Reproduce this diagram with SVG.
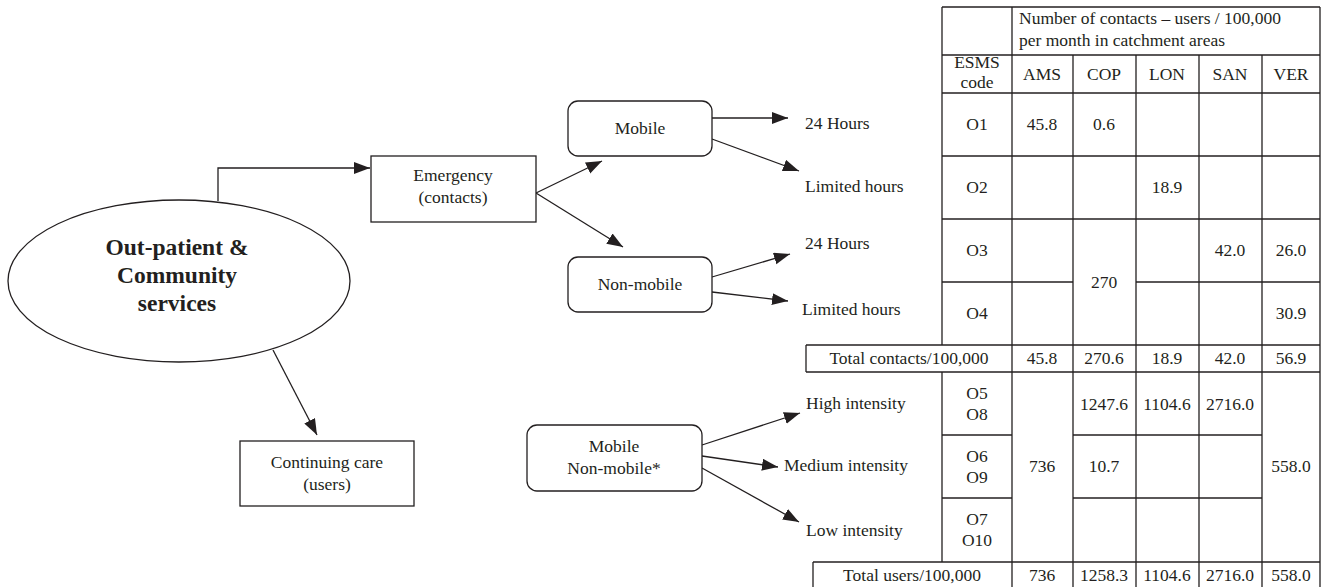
<svg xmlns="http://www.w3.org/2000/svg" width="1322" height="587" viewBox="0 0 1322 587">
<style>
text{font-family:"Liberation Serif","DejaVu Serif",serif;fill:#231f20;font-size:17.5px}
.c{text-anchor:middle}
.b{font-weight:bold;font-size:23.5px}
.box{fill:#fff;stroke:#231f20;stroke-width:1.3}
.ln{stroke:#231f20;stroke-width:1.3;fill:none}
.g{stroke:#231f20;stroke-width:1.3}
</style>
<defs>
<marker id="ah" markerUnits="userSpaceOnUse" markerWidth="17" markerHeight="13" refX="16" refY="6" orient="auto">
<path d="M0,0 L16,6 L0,12 z" fill="#231f20"/>
</marker>
</defs>
<rect width="1322" height="587" fill="#fff"/>

<g id="connectors" class="ln">
<polyline points="218,201 218,168 370,168" marker-end="url(#ah)"/>
<line x1="273" y1="350" x2="317" y2="435" marker-end="url(#ah)"/>
<line x1="536" y1="193" x2="602" y2="161" marker-end="url(#ah)"/>
<line x1="536" y1="193" x2="623" y2="247" marker-end="url(#ah)"/>
<line x1="712" y1="118" x2="788" y2="118" marker-end="url(#ah)"/>
<line x1="712" y1="139" x2="799" y2="171" marker-end="url(#ah)"/>
<line x1="712" y1="277" x2="790" y2="254" marker-end="url(#ah)"/>
<line x1="712" y1="292" x2="788" y2="301" marker-end="url(#ah)"/>
<line x1="702" y1="445" x2="800" y2="413" marker-end="url(#ah)"/>
<line x1="702" y1="456" x2="778" y2="467" marker-end="url(#ah)"/>
<line x1="702" y1="468" x2="799" y2="522" marker-end="url(#ah)"/>
</g>

<g id="node-outpatient">
<ellipse cx="179" cy="281" rx="171" ry="81" class="box"/>
<text class="c b" x="177" y="255">Out-patient &amp;</text>
<text class="c b" x="177" y="283">Community</text>
<text class="c b" x="177" y="311">services</text>
</g>

<g id="node-emergency">
<rect x="371" y="156" width="165" height="66" class="box"/>
<text class="c" x="453" y="181">Emergency</text>
<text class="c" x="453" y="203">(contacts)</text>
</g>

<g id="node-continuing">
<rect x="240" y="441" width="174" height="65" class="box"/>
<text class="c" x="327" y="468">Continuing care</text>
<text class="c" x="327" y="490">(users)</text>
</g>

<g id="node-mobile">
<rect x="568" y="101" width="144" height="55" rx="10" class="box"/>
<text class="c" x="640" y="134">Mobile</text>
</g>

<g id="node-nonmobile">
<rect x="568" y="257" width="144" height="55" rx="10" class="box"/>
<text class="c" x="640" y="290">Non-mobile</text>
</g>

<g id="node-mobile-nonmobile">
<rect x="527" y="425" width="175" height="66" rx="10" class="box"/>
<text class="c" x="614" y="452">Mobile</text>
<text class="c" x="614" y="474">Non-mobile*</text>
</g>

<g id="labels">
<text x="805" y="129">24 Hours</text>
<text x="805" y="192">Limited hours</text>
<text x="805" y="249">24 Hours</text>
<text x="802" y="315">Limited hours</text>
<text x="806" y="409">High intensity</text>
<text x="784" y="471">Medium intensity</text>
<text x="806" y="536">Low intensity</text>
</g>

<g id="table" class="g">
<line x1="942" y1="7" x2="1320" y2="7"/>
<line x1="942" y1="55" x2="1320" y2="55"/>
<line x1="942" y1="93" x2="1320" y2="93"/>
<line x1="942" y1="156" x2="1320" y2="156"/>
<line x1="942" y1="219" x2="1320" y2="219"/>
<line x1="942" y1="282" x2="1073" y2="282"/>
<line x1="1136" y1="282" x2="1320" y2="282"/>
<line x1="806" y1="345" x2="1320" y2="345"/>
<line x1="806" y1="372" x2="1320" y2="372"/>
<line x1="942" y1="435" x2="1012" y2="435"/>
<line x1="1073" y1="435" x2="1262" y2="435"/>
<line x1="942" y1="498" x2="1012" y2="498"/>
<line x1="1073" y1="498" x2="1262" y2="498"/>
<line x1="813" y1="562" x2="1320" y2="562"/>
<line x1="942" y1="7" x2="942" y2="345"/>
<line x1="942" y1="372" x2="942" y2="562"/>
<line x1="806" y1="345" x2="806" y2="372"/>
<line x1="813" y1="562" x2="813" y2="587"/>
<line x1="1012" y1="7" x2="1012" y2="587"/>
<line x1="1073" y1="55" x2="1073" y2="587"/>
<line x1="1136" y1="55" x2="1136" y2="587"/>
<line x1="1199" y1="55" x2="1199" y2="587"/>
<line x1="1262" y1="55" x2="1262" y2="587"/>
<line x1="1320" y1="7" x2="1320" y2="587"/>
</g>

<g id="table-text">
<text x="1019" y="24">Number of contacts – users / 100,000</text>
<text x="1019" y="46">per month in catchment areas</text>
<text class="c" x="977" y="68">ESMS</text>
<text class="c" x="977" y="88">code</text>
<text class="c" x="1042" y="80">AMS</text>
<text class="c" x="1104" y="80">COP</text>
<text class="c" x="1167" y="80">LON</text>
<text class="c" x="1230" y="80">SAN</text>
<text class="c" x="1291" y="80">VER</text>

<text class="c" x="977" y="130">O1</text>
<text class="c" x="1042" y="130">45.8</text>
<text class="c" x="1104" y="130">0.6</text>
<text class="c" x="977" y="193">O2</text>
<text class="c" x="1167" y="193">18.9</text>
<text class="c" x="977" y="256">O3</text>
<text class="c" x="1230" y="256">42.0</text>
<text class="c" x="1291" y="256">26.0</text>
<text class="c" x="1104" y="288">270</text>
<text class="c" x="977" y="319">O4</text>
<text class="c" x="1291" y="319">30.9</text>

<text class="c" x="909" y="364">Total contacts/100,000</text>
<text class="c" x="1042" y="364">45.8</text>
<text class="c" x="1104" y="364">270.6</text>
<text class="c" x="1167" y="364">18.9</text>
<text class="c" x="1230" y="364">42.0</text>
<text class="c" x="1291" y="364">56.9</text>

<text class="c" x="977" y="399">O5</text>
<text class="c" x="977" y="420">O8</text>
<text class="c" x="1104" y="410">1247.6</text>
<text class="c" x="1167" y="410">1104.6</text>
<text class="c" x="1230" y="410">2716.0</text>
<text class="c" x="977" y="462">O6</text>
<text class="c" x="977" y="483">O9</text>
<text class="c" x="1042" y="472">736</text>
<text class="c" x="1104" y="472">10.7</text>
<text class="c" x="1291" y="472">558.0</text>
<text class="c" x="977" y="525">O7</text>
<text class="c" x="977" y="546">O10</text>

<text class="c" x="912" y="581">Total users/100,000</text>
<text class="c" x="1042" y="581">736</text>
<text class="c" x="1104" y="581">1258.3</text>
<text class="c" x="1167" y="581">1104.6</text>
<text class="c" x="1230" y="581">2716.0</text>
<text class="c" x="1291" y="581">558.0</text>
</g>
</svg>
